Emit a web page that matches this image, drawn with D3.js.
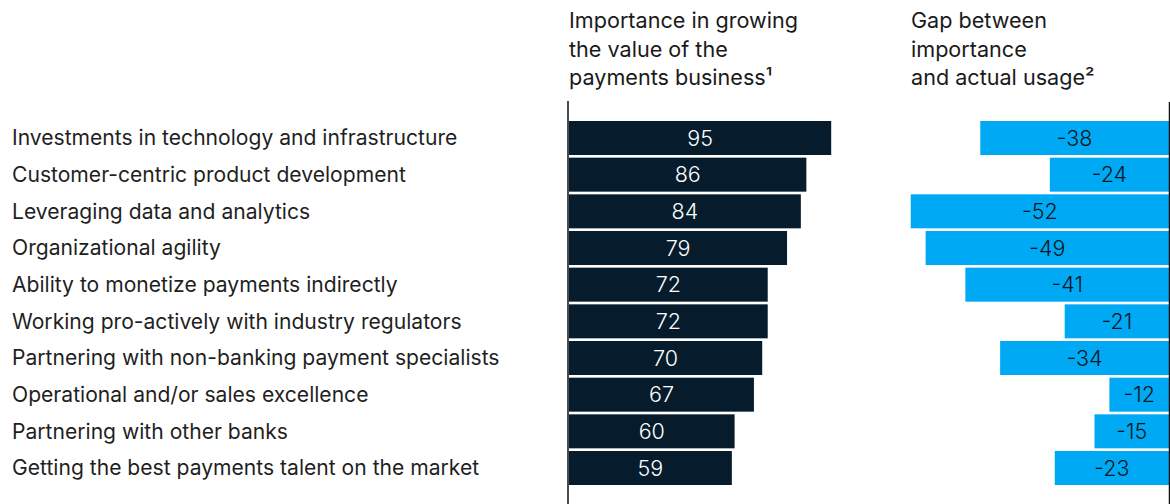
<!DOCTYPE html>
<html>
<head>
<meta charset="utf-8">
<script src="https://cdn.jsdelivr.net/npm/d3@7"></script>
<style>
  html, body { margin: 0; padding: 0; background: #fff; }
  svg { display: block; font-family: Inter, "Liberation Sans", Arial, sans-serif; }
</style>
</head>
<body>
<svg id="chart" width="1170" height="504"></svg>
<script>
const categories = [
  "Investments in technology and infrastructure",
  "Customer-centric product development",
  "Leveraging data and analytics",
  "Organizational agility",
  "Ability to monetize payments indirectly",
  "Working pro-actively with industry regulators",
  "Partnering with non-banking payment specialists",
  "Operational and/or sales excellence",
  "Partnering with other banks",
  "Getting the best payments talent on the market"
];
const importance = [95, 86, 84, 79, 72, 72, 70, 67, 60, 59];
const gap = [-38, -24, -52, -49, -41, -21, -34, -12, -15, -23];
const importanceTitle = ["Importance in growing", "the value of the", "payments business\u00B9"];
const gapTitle = ["Gap between", "importance", "and actual usage\u00B2"];

const svg = d3.select("#chart");

const y = d3.scaleBand()
  .domain(categories)
  .range([121, 485])
  .paddingInner(0.073)
  .paddingOuter(0);

const xLeft = d3.scaleLinear().domain([0, 100]).range([569, 845]);
const xRight = d3.scaleLinear().domain([-60, 0]).range([871, 1169]);

// Row labels
svg.append("g")
  .selectAll("text")
  .data(categories)
  .join("text")
  .attr("x", 12)
  .attr("y", d => y(d) + y.bandwidth() / 2)
  .attr("dy", "0.35em")
  .attr("font-size", 21.1)
  .attr("fill", "#1f1f1f")
  .text(d => d);

// Column headers
function header(lines, x) {
  const t = svg.append("text")
    .attr("x", x)
    .attr("y", 28)
    .attr("font-size", 21.6)
    .attr("fill", "#1a1a1a");
  lines.forEach((l, i) => {
    t.append("tspan").attr("x", x).attr("dy", i === 0 ? 0 : 28.5).text(l);
  });
}
header(importanceTitle, 569);
header(gapTitle, 911);

// Importance bars
const left = svg.append("g");
left.selectAll("rect")
  .data(importance)
  .join("rect")
  .attr("x", xLeft(0))
  .attr("y", (d, i) => y(categories[i]))
  .attr("width", d => xLeft(d) - xLeft(0))
  .attr("height", y.bandwidth())
  .attr("fill", "#061c2c");
left.selectAll("text")
  .data(importance)
  .join("text")
  .attr("x", d => (xLeft(0) + xLeft(d)) / 2)
  .attr("y", (d, i) => y(categories[i]) + y.bandwidth() / 2)
  .attr("dy", "0.36em")
  .attr("text-anchor", "middle")
  .attr("font-size", 21.5)
  .attr("font-weight", 300)
  .attr("fill", "#ffffff")
  .text(d => d);

// Gap bars
const right = svg.append("g");
right.selectAll("rect")
  .data(gap)
  .join("rect")
  .attr("x", d => xRight(d))
  .attr("y", (d, i) => y(categories[i]))
  .attr("width", d => xRight(0) - xRight(d))
  .attr("height", y.bandwidth())
  .attr("fill", "#00a9f4");
right.selectAll("text")
  .data(gap)
  .join("text")
  .attr("x", d => (xRight(0) + xRight(d)) / 2)
  .attr("y", (d, i) => y(categories[i]) + y.bandwidth() / 2)
  .attr("dy", "0.36em")
  .attr("text-anchor", "middle")
  .attr("font-size", 21.5)
  .attr("font-weight", 300)
  .attr("fill", "#0b1620")
  .text(d => d);

// Zero axis lines
svg.append("line")
  .attr("x1", xLeft(0) - 1).attr("x2", xLeft(0) - 1)
  .attr("y1", 101).attr("y2", 504)
  .attr("stroke", "#111").attr("stroke-width", 1.5);
svg.append("line")
  .attr("x1", xRight(0) + 0.5).attr("x2", xRight(0) + 0.5)
  .attr("y1", 102).attr("y2", 504)
  .attr("stroke", "#111").attr("stroke-width", 1.5);
</script>
</body>
</html>
